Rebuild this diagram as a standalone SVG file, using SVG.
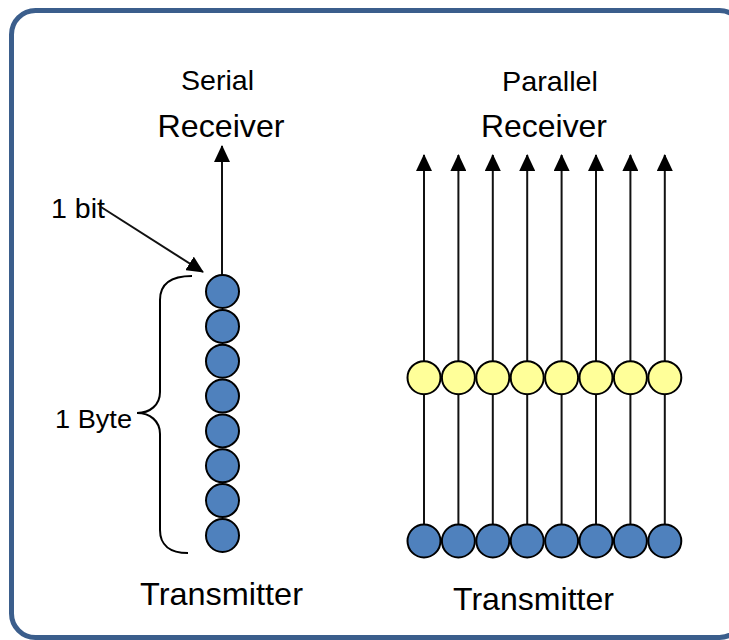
<svg xmlns="http://www.w3.org/2000/svg" width="729" height="640" viewBox="0 0 729 640">
  <style>
    .label { font-family: "Liberation Sans", Arial, sans-serif; fill: #000; }
    .wire { stroke: #111; stroke-width: 2; fill: none; }
    .bit-blue { fill: #4f81bd; stroke: #000; stroke-width: 2; }
    .bit-yellow { fill: #ffff99; stroke: #000; stroke-width: 2; }
    .brace { stroke: #000; stroke-width: 2; fill: none; }
  </style>
  <defs>
    <marker id="arrow" viewBox="0 0 17 16" markerWidth="17" markerHeight="16" refX="16" refY="8" orient="auto" markerUnits="userSpaceOnUse">
      <path d="M0,0 L17,8 L0,16 z" fill="#000"/>
    </marker>
  </defs>

  <rect width="729" height="640" fill="#fff"/>
  <!-- outer frame -->
  <rect x="11.5" y="10.5" width="732" height="627" rx="24" ry="24" fill="none" stroke="#3b5e8c" stroke-width="5"/>

  <!-- titles -->
  <g id="serial-title">
    <text class="label" x="217.5" y="90" font-size="28" text-anchor="middle" textLength="73" lengthAdjust="spacingAndGlyphs">Serial</text>
    <text class="label" x="221" y="137" font-size="32" text-anchor="middle" textLength="127" lengthAdjust="spacingAndGlyphs">Receiver</text>
  </g>
  <g id="parallel-title">
    <text class="label" x="550" y="91" font-size="28" text-anchor="middle" textLength="96" lengthAdjust="spacingAndGlyphs">Parallel</text>
    <text class="label" x="544" y="137" font-size="32" text-anchor="middle" textLength="126" lengthAdjust="spacingAndGlyphs">Receiver</text>
  </g>
  <g id="serial-transmitter">
    <text class="label" x="140" y="605" font-size="32" textLength="163" lengthAdjust="spacingAndGlyphs">Transmitter</text>
  </g>
  <g id="parallel-transmitter">
    <text class="label" x="453" y="610" font-size="32" textLength="161" lengthAdjust="spacingAndGlyphs">Transmitter</text>
  </g>
  <g id="bit-label">
    <text class="label" x="51" y="218" font-size="28" textLength="54" lengthAdjust="spacingAndGlyphs">1 bit</text>
  </g>
  <g id="byte-label">
    <text class="label" x="55" y="428" font-size="26" textLength="77" lengthAdjust="spacingAndGlyphs">1 Byte</text>
  </g>

  <!-- connectors -->
  <g id="connectors">
    <line class="wire" x1="222" y1="275" x2="222" y2="146" marker-end="url(#arrow)"/>
    <line class="wire" x1="101" y1="207" x2="203" y2="272" marker-end="url(#arrow)"/>
    <path class="brace" d="M192,276 C170,276 160,285 160,300 L160,392 C160,405 150,413 137,413 C150,413 160,421 160,434 L160,530 C160,545 170,553 188,553"/>
    <g id="parallel-wires">
      <line class="wire" x1="424" y1="361" x2="424" y2="155" marker-end="url(#arrow)"/>
      <line class="wire" x1="458.4" y1="361" x2="458.4" y2="155" marker-end="url(#arrow)"/>
      <line class="wire" x1="492.8" y1="361" x2="492.8" y2="155" marker-end="url(#arrow)"/>
      <line class="wire" x1="527.2" y1="361" x2="527.2" y2="155" marker-end="url(#arrow)"/>
      <line class="wire" x1="561.6" y1="361" x2="561.6" y2="155" marker-end="url(#arrow)"/>
      <line class="wire" x1="596" y1="361" x2="596" y2="155" marker-end="url(#arrow)"/>
      <line class="wire" x1="630.4" y1="361" x2="630.4" y2="155" marker-end="url(#arrow)"/>
      <line class="wire" x1="664.8" y1="361" x2="664.8" y2="155" marker-end="url(#arrow)"/>
      <line class="wire" x1="424" y1="394" x2="424" y2="524"/>
      <line class="wire" x1="458.4" y1="394" x2="458.4" y2="524"/>
      <line class="wire" x1="492.8" y1="394" x2="492.8" y2="524"/>
      <line class="wire" x1="527.2" y1="394" x2="527.2" y2="524"/>
      <line class="wire" x1="561.6" y1="394" x2="561.6" y2="524"/>
      <line class="wire" x1="596" y1="394" x2="596" y2="524"/>
      <line class="wire" x1="630.4" y1="394" x2="630.4" y2="524"/>
      <line class="wire" x1="664.8" y1="394" x2="664.8" y2="524"/>
    </g>
  </g>

  <!-- serial byte: 8 bits in a column -->
  <g id="serial-bits">
    <circle class="bit-blue" cx="222.5" cy="291.5" r="16.5"/>
    <circle class="bit-blue" cx="222.5" cy="326.4" r="16.5"/>
    <circle class="bit-blue" cx="222.5" cy="361.2" r="16.5"/>
    <circle class="bit-blue" cx="222.5" cy="396.1" r="16.5"/>
    <circle class="bit-blue" cx="222.5" cy="430.9" r="16.5"/>
    <circle class="bit-blue" cx="222.5" cy="465.8" r="16.5"/>
    <circle class="bit-blue" cx="222.5" cy="500.6" r="16.5"/>
    <circle class="bit-blue" cx="222.5" cy="535.5" r="16.5"/>
  </g>

  <!-- parallel bits in transit -->
  <g id="parallel-transit-bits">
    <circle class="bit-yellow" cx="424" cy="377.7" r="16.5"/>
    <circle class="bit-yellow" cx="458.4" cy="377.7" r="16.5"/>
    <circle class="bit-yellow" cx="492.8" cy="377.7" r="16.5"/>
    <circle class="bit-yellow" cx="527.2" cy="377.7" r="16.5"/>
    <circle class="bit-yellow" cx="561.6" cy="377.7" r="16.5"/>
    <circle class="bit-yellow" cx="596" cy="377.7" r="16.5"/>
    <circle class="bit-yellow" cx="630.4" cy="377.7" r="16.5"/>
    <circle class="bit-yellow" cx="664.8" cy="377.7" r="16.5"/>
  </g>

  <!-- parallel bits at the transmitter -->
  <g id="parallel-source-bits">
    <circle class="bit-blue" cx="424" cy="541" r="16.5"/>
    <circle class="bit-blue" cx="458.4" cy="541" r="16.5"/>
    <circle class="bit-blue" cx="492.8" cy="541" r="16.5"/>
    <circle class="bit-blue" cx="527.2" cy="541" r="16.5"/>
    <circle class="bit-blue" cx="561.6" cy="541" r="16.5"/>
    <circle class="bit-blue" cx="596" cy="541" r="16.5"/>
    <circle class="bit-blue" cx="630.4" cy="541" r="16.5"/>
    <circle class="bit-blue" cx="664.8" cy="541" r="16.5"/>
  </g>
</svg>
